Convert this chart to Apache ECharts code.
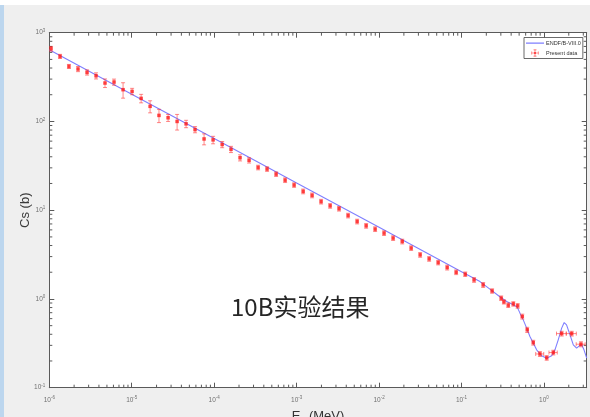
<!DOCTYPE html>
<html>
<head>
<meta charset="utf-8">
<script src="https://cdn.jsdelivr.net/npm/echarts@6/dist/echarts.min.js"></script>
<style>html,body{margin:0;padding:0;background:#efefef;}#c{width:590px;height:417px;}</style>
</head>
<body>
<div id="c"></div>
<script>
// ---- data ----
const xTickExponents = [-6, -5, -4, -3, -2, -1, 0];
const yTickExponents = [-1, 0, 1, 2, 3];
const xAxisTitle = 'E';
const xAxisSub = 'n';
const xAxisUnit = ' (MeV)';
const yAxisTitle = 'Cs (b)';
const overlayText = '10B实验结果';
const legendNames = ['ENDF/B-VIII.0', 'Present data'];

const endfE = [1e-6, 1e-5, 1e-4, 1e-3, 1e-2, 0.1, 0.1675, 0.221, 0.292, 0.353, 0.425, 0.474, 0.512, 0.561, 0.617, 0.676, 0.741, 0.815, 0.938, 1.079, 1.24, 1.36, 1.49, 1.64, 1.76, 1.88, 2.07, 2.27, 2.49, 2.68, 2.87, 3.06, 3.30];
const endfCs = [643, 203, 64.3, 20.3, 6.43, 2.03, 1.57, 1.29, 1.06, 0.935, 0.859, 0.809, 0.692, 0.581, 0.469, 0.377, 0.318, 0.267, 0.229, 0.215, 0.229, 0.267, 0.346, 0.469, 0.542, 0.511, 0.394, 0.304, 0.279, 0.296, 0.304, 0.267, 0.215];

const presentE = [1.05e-6,1.35e-6,1.73e-6,2.23e-6,2.87e-6,3.69e-6,4.74e-6,6.10e-6,7.85e-6,1.01e-5,1.30e-5,1.67e-5,2.14e-5,2.76e-5,3.55e-5,4.56e-5,5.86e-5,7.54e-5,9.70e-5,1.25e-4,1.60e-4,2.06e-4,2.65e-4,3.41e-4,4.38e-4,5.64e-4,7.25e-4,9.32e-4,1.20e-3,1.54e-3,1.98e-3,2.55e-3,3.27e-3,4.21e-3,5.42e-3,6.97e-3,8.96e-3,1.15e-2,1.48e-2,1.91e-2,2.45e-2,3.15e-2,4.05e-2,5.21e-2,6.70e-2,8.61e-2,0.111,0.142,0.183,0.235,0.303,0.327,0.369,0.425,0.480,0.546,0.627,0.742,0.894,1.08,1.30,1.64,2.17,2.81];
const presentCs = [660,541,417,390,357,327,271,278,228,218,182,148,117,110,100,94,81,63.5,62,55,48.5,39,36.5,30.3,29.1,25.5,21.8,19.2,16.3,14.7,12.5,11.2,10.4,8.71,7.46,6.67,6.12,5.52,4.85,4.44,3.74,3.14,2.83,2.57,2.26,2.00,1.90,1.64,1.44,1.23,1.02,0.927,0.851,0.88,0.836,0.634,0.449,0.322,0.240,0.217,0.249,0.407,0.407,0.309];
const presentErr = [40,29,22,26,24,26,30,22,45,18,20,23,20,10,20,9,6.5,9,6,4.4,3.9,3.1,2.5,1.8,1.7,1.5,1.3,1.1,1.0,0.9,0.75,0.67,0.62,0.52,0.45,0.40,0.37,0.33,0.29,0.27,0.22,0.19,0.17,0.15,0.14,0.12,0.11,0.1,0.09,0.07,0.06,0.05,0.05,0.05,0.05,0.04,0.03,0.02,0.015,0.013,0.015,0.025,0.025,0.02];
const presentEErr = [0,0,0,0,0,0,0,0,0,0,0,0,0,0,0,0,0,0,0,0,0,0,0,0,0,0,0,0,0,0,0,0,0,0,0,0,0,0,0,0,0,0,0,0,0,0,0,0,0,0,0,0,0,0,0,0,0,0,0.1,0,0.15,0.22,0.3,0.35];

// ---- build ----
const xMin = 1e-6, xMax = 3.3, yMin = 0.1, yMax = 1000;
const endfData = endfE.map((e, i) => [e, endfCs[i]]);
const presentData = presentE.map((e, i) => [e, presentCs[i]]);
const errData = presentE.map((e, i) => [e, presentCs[i], presentErr[i], presentEErr[i]]);

const xMinor = [];
for (const k of xTickExponents) for (let m = 2; m <= 9; m++) { const v = m * Math.pow(10, k); if (v < xMax) xMinor.push([v, 1]); }
const yMinor = [];
for (const k of yTickExponents) for (let m = 2; m <= 9; m++) { const v = m * Math.pow(10, k); if (v < yMax) yMinor.push([1e-3, v]); }

const axisColor = '#5a5a5a';
const labelColor = '#707070';
function expLabel(list) {
  return function (v) {
    const l = Math.log10(v), e = Math.round(l);
    if (Math.abs(l - e) > 1e-6 || list.indexOf(e) < 0) return '';
    return '{b|10}{s|' + e + '}';
  };
}
const labelRich = {
  b: { fontSize: 6.5, color: labelColor, fontFamily: 'Liberation Sans' },
  s: { fontSize: 4.5, color: labelColor, fontFamily: 'Liberation Sans', padding: [0, 0, 4, 0] }
};

const chart = echarts.init(document.getElementById('c'), null, { renderer: 'canvas' });
const errColor = 'rgba(255,40,40,0.55)';

chart.setOption({
  backgroundColor: '#efefef',
  animation: false,
  graphic: [
    { type: 'rect', shape: { x: 0, y: 0, width: 590, height: 5 }, style: { fill: '#ffffff' }, z: -10 },
    { type: 'rect', shape: { x: 0, y: 5, width: 4, height: 412 }, style: { fill: '#bcd6ee' }, z: -10 },
    { type: 'text', left: 231, top: 295, style: { text: overlayText, fontSize: 24, fill: '#262626', fontFamily: 'Noto Sans CJK SC' }, z: 100 }
  ],
  grid: { left: 49.3, right: 3.3, top: 32.7, bottom: 29.3, containLabel: false, outerBoundsMode: 'none', show: true, backgroundColor: '#ffffff', borderWidth: 0 },
  legend: {
    data: [
      { name: legendNames[0], icon: 'path://M0,0h0.01v0.01h-0.01z M0,3h18v1.3h-18z M17.99,6.99h0.01v0.01h-0.01z' },
      { name: legendNames[1], icon: 'path://M0,0h0.01v0.01h-0.01z M4,3h10v0.9h-10z M8.55,-1.5h0.9v9.9h-0.9z M4,1.5h0.9v3.9h-0.9z M13.1,1.5h0.9v3.9h-0.9z M7,-1.5h4v0.9h-4z M7,7.5h4v0.9h-4z M7.5,2h3v2.8h-3z M17.99,6.99h0.01v0.01h-0.01z' }
    ],
    orient: 'vertical', left: 524, top: 37.5,
    itemWidth: 18, itemHeight: 7, itemGap: 3,
    padding: [2, 2, 2, 2],
    backgroundColor: '#ffffff', borderColor: '#444', borderWidth: 0.8, borderRadius: 0,
    textStyle: { fontSize: 5.5, color: '#333', fontFamily: 'Liberation Sans', padding: [0, 0, 0, -3] }
  },
  xAxis: [
    {
      type: 'log', logBase: 10, min: xMin, max: xMax, position: 'bottom',
      name: '{e|' + xAxisTitle + '}{n|' + xAxisSub + '}{e|' + xAxisUnit + '}', nameLocation: 'middle', nameGap: 20, nameMoveOverlap: false,
      nameTextStyle: { rich: { e: { fontSize: 13, color: '#333', fontFamily: 'Liberation Sans' }, n: { fontSize: 9, color: '#333', fontFamily: 'Liberation Sans', padding: [8, 0, 0, 0] } } },
      axisLine: { show: true, lineStyle: { color: axisColor, width: 1 } },
      axisTick: { show: true, inside: true, length: 5, lineStyle: { color: axisColor } },
      axisLabel: { formatter: expLabel(xTickExponents), rich: labelRich, margin: 8, showMaxLabel: false },
      splitLine: { show: false }
    },
    {
      type: 'log', logBase: 10, min: xMin, max: xMax, position: 'top',
      axisLine: { show: true, lineStyle: { color: axisColor, width: 1 } },
      axisTick: { show: true, inside: true, length: 5, lineStyle: { color: axisColor } },
      axisLabel: { show: false }, splitLine: { show: false }
    }
  ],
  yAxis: [
    {
      type: 'log', logBase: 10, min: yMin, max: yMax, position: 'left',
      name: yAxisTitle, nameLocation: 'middle', nameGap: 17, nameRotate: 90, nameMoveOverlap: false,
      nameTextStyle: { fontSize: 13, color: '#3a3a3a', fontFamily: 'Liberation Sans' },
      axisLine: { show: true, lineStyle: { color: axisColor, width: 1 } },
      axisTick: { show: true, inside: true, length: 5, lineStyle: { color: axisColor } },
      axisLabel: { formatter: expLabel(yTickExponents), rich: labelRich, margin: 4 },
      splitLine: { show: false }
    },
    {
      type: 'log', logBase: 10, min: yMin, max: yMax, position: 'right',
      axisLine: { show: true, lineStyle: { color: axisColor, width: 1 } },
      axisTick: { show: true, inside: true, length: 5, lineStyle: { color: axisColor } },
      axisLabel: { show: false }, splitLine: { show: false }
    }
  ],
  series: [
    {
      type: 'custom', name: 'xminor', data: xMinor, silent: true, clip: false,
      renderItem: function (params, api) {
        const p = api.coord([api.value(0), api.value(1)]);
        const cs = params.coordSys;
        const b = cs.y + cs.height;
        return { type: 'group', children: [
          { type: 'line', shape: { x1: p[0], y1: b, x2: p[0], y2: b - 3 }, style: { stroke: axisColor, lineWidth: 1 } },
          { type: 'line', shape: { x1: p[0], y1: cs.y, x2: p[0], y2: cs.y + 3 }, style: { stroke: axisColor, lineWidth: 1 } }
        ] };
      }
    },
    {
      type: 'custom', name: 'yminor', data: yMinor, silent: true, clip: false,
      renderItem: function (params, api) {
        const p = api.coord([xMin, api.value(1)]);
        const cs = params.coordSys;
        const r = cs.x + cs.width;
        return { type: 'group', children: [
          { type: 'line', shape: { x1: cs.x, y1: p[1], x2: cs.x + 3, y2: p[1] }, style: { stroke: axisColor, lineWidth: 1 } },
          { type: 'line', shape: { x1: r, y1: p[1], x2: r - 3, y2: p[1] }, style: { stroke: axisColor, lineWidth: 1 } }
        ] };
      }
    },
    {
      type: 'line', name: legendNames[0], data: endfData, showSymbol: false, symbol: 'none',
      lineStyle: { color: '#7f7fff', width: 1.1 }, itemStyle: { color: '#7f7fff' }, z: 3
    },
    {
      type: 'custom', name: 'errbars', data: errData, silent: true, z: 4,
      renderItem: function (params, api) {
        const e = api.value(0), c = api.value(1), d = api.value(2), de = api.value(3);
        const top = api.coord([e, c + d]);
        const bot = api.coord([e, Math.max(c - d, 1e-3)]);
        const ctr = api.coord([e, c]);
        const cap = 2;
        const st = { stroke: errColor, lineWidth: 1 };
        const ch = [
          { type: 'line', shape: { x1: top[0], y1: top[1], x2: bot[0], y2: bot[1] }, style: st },
          { type: 'line', shape: { x1: top[0] - cap, y1: top[1], x2: top[0] + cap, y2: top[1] }, style: st },
          { type: 'line', shape: { x1: bot[0] - cap, y1: bot[1], x2: bot[0] + cap, y2: bot[1] }, style: st }
        ];
        if (de > 0) {
          const l = api.coord([e - de, c]), r = api.coord([e + de, c]);
          ch.push({ type: 'line', shape: { x1: l[0], y1: ctr[1], x2: r[0], y2: ctr[1] }, style: st });
          ch.push({ type: 'line', shape: { x1: l[0], y1: ctr[1] - cap, x2: l[0], y2: ctr[1] + cap }, style: st });
          ch.push({ type: 'line', shape: { x1: r[0], y1: ctr[1] - cap, x2: r[0], y2: ctr[1] + cap }, style: st });
        }
        return { type: 'group', children: ch };
      }
    },
    {
      type: 'scatter', name: legendNames[1], data: presentData, symbol: 'rect', symbolSize: 3.5,
      itemStyle: { color: '#ff1a1a' }, z: 5
    }
  ]
});
</script>
</body>
</html>
